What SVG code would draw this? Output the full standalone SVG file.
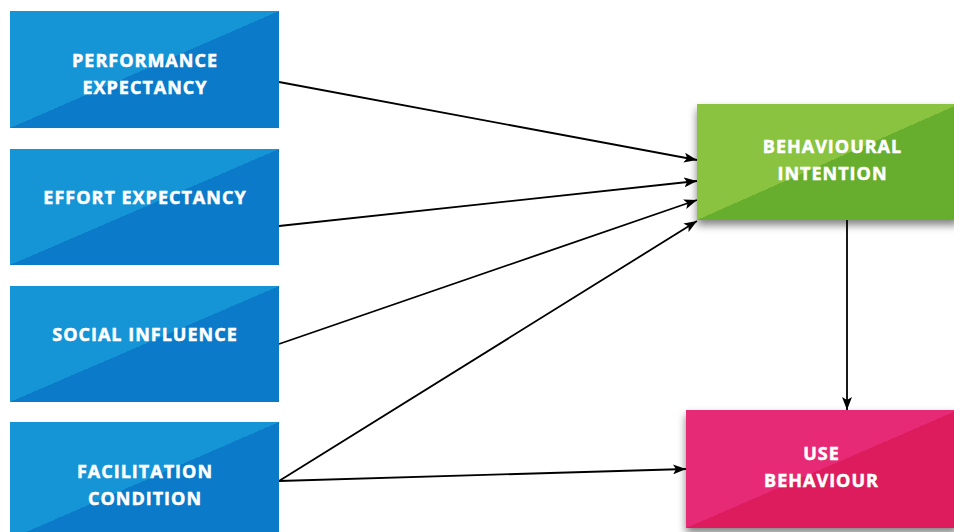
<svg xmlns="http://www.w3.org/2000/svg" width="954" height="532" viewBox="0 0 954 532">
<defs>
<linearGradient id="gBlue" gradientUnits="objectBoundingBox" x1="0" y1="0" x2="1" y2="1">
<stop offset="0.5" stop-color="#1594d6"/><stop offset="0.5" stop-color="#0b7bc9"/>
</linearGradient>
<linearGradient id="gGreen" gradientUnits="objectBoundingBox" x1="0" y1="0" x2="1" y2="1">
<stop offset="0.5" stop-color="#89c33f"/><stop offset="0.5" stop-color="#68ae2d"/>
</linearGradient>
<linearGradient id="gPink" gradientUnits="objectBoundingBox" x1="0" y1="0" x2="1" y2="1">
<stop offset="0.5" stop-color="#e62a76"/><stop offset="0.5" stop-color="#dc1b5d"/>
</linearGradient>
<filter id="sh" x="-10%" y="-10%" width="130%" height="140%">
<feGaussianBlur in="SourceAlpha" stdDeviation="4"/>
<feOffset dx="0" dy="5"/>
<feComponentTransfer><feFuncA type="linear" slope="0.5"/></feComponentTransfer>
<feMerge><feMergeNode/><feMergeNode in="SourceGraphic"/></feMerge>
</filter>
<marker id="arr" markerWidth="13" markerHeight="10" refX="13" refY="5" orient="auto" markerUnits="userSpaceOnUse">
<path d="M0,0 L13,5 L0,10 L3,5 Z" fill="#000"/>
</marker>
</defs>
<style>
.lbl{font-family:"Open Sans","Liberation Sans",sans-serif;font-weight:700;font-size:18px;letter-spacing:1px;fill:#fff;stroke:#fff;stroke-width:0.5;text-anchor:middle}
.con{stroke:#000;stroke-width:1.8;fill:none;marker-end:url(#arr)}
</style>
<rect width="954" height="532" fill="#fff"/>
<g id="connectors">
<line class="con" x1="279" y1="82" x2="697" y2="160"/>
<line class="con" x1="279" y1="226" x2="697" y2="181"/>
<line class="con" x1="279" y1="344" x2="697" y2="200"/>
<line class="con" x1="279" y1="481" x2="697" y2="221"/>
<line class="con" x1="279" y1="481" x2="686" y2="469"/>
<line class="con" x1="847" y1="220" x2="847" y2="410"/>
</g>
<g id="performance">
<rect x="10" y="11" width="269" height="117" fill="url(#gBlue)"/>
<text class="lbl" x="145" y="67">PERFORMANCE</text>
<text class="lbl" x="145" y="94">EXPECTANCY</text>
</g>
<g id="effort">
<rect x="10" y="149" width="269" height="116" fill="url(#gBlue)"/>
<text class="lbl" x="145" y="204">EFFORT EXPECTANCY</text>
</g>
<g id="social">
<rect x="10" y="286" width="269" height="116" fill="url(#gBlue)"/>
<text class="lbl" x="145" y="341">SOCIAL INFLUENCE</text>
</g>
<g id="facilitation">
<rect x="10" y="422" width="269" height="117" fill="url(#gBlue)"/>
<text class="lbl" x="145" y="478">FACILITATION</text>
<text class="lbl" x="145" y="505">CONDITION</text>
</g>
<g id="intention">
<rect x="697" y="104" width="262" height="116" fill="url(#gGreen)" filter="url(#sh)"/>
<text class="lbl" x="832.5" y="153">BEHAVIOURAL</text>
<text class="lbl" x="832.5" y="180">INTENTION</text>
</g>
<g id="use">
<rect x="686" y="410" width="272" height="118" fill="url(#gPink)" filter="url(#sh)"/>
<text class="lbl" x="821.5" y="460">USE</text>
<text class="lbl" x="821.5" y="487">BEHAVIOUR</text>
</g>
</svg>
